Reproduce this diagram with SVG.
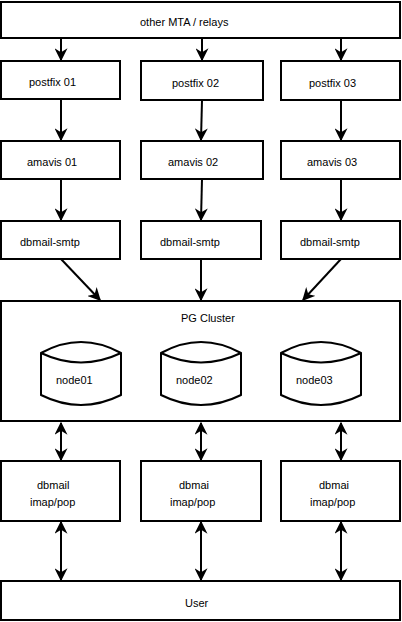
<svg xmlns="http://www.w3.org/2000/svg" width="402" height="622" viewBox="0 0 402 622">
<defs>
<marker id="ah" viewBox="0 0 10 10" refX="9" refY="5" markerWidth="6.5" markerHeight="6.5" orient="auto-start-reverse" markerUnits="strokeWidth">
<path d="M0,0 L10,5 L0,10 L3,5 z" fill="#000"/>
</marker>
</defs>
<style>
.box{fill:#fff;stroke:#000;stroke-width:2}
.cyl{fill:#fff;stroke:#000;stroke-width:2}
.t{font-family:"Liberation Sans",Arial,sans-serif;font-size:11px;fill:#000}
.c{stroke:#000;stroke-width:2;fill:none}
</style>
<rect width="402" height="622" fill="#fff"/>
<g id="relays"><rect class="box" x="1" y="2" width="399" height="36"/><text class="t" x="140" y="26">other MTA / relays</text></g>
<g id="postfix01"><rect class="box" x="1" y="61" width="119" height="38"/><text class="t" x="29" y="86">postfix 01</text></g>
<g id="postfix02"><rect class="box" x="141" y="61" width="122" height="39"/><text class="t" x="172" y="87">postfix 02</text></g>
<g id="postfix03"><rect class="box" x="281" y="61" width="119" height="39"/><text class="t" x="309" y="87">postfix 03</text></g>
<g id="amavis01"><rect class="box" x="1" y="141" width="119" height="38"/><text class="t" x="27" y="166">amavis 01</text></g>
<g id="amavis02"><rect class="box" x="141" y="141" width="122" height="38"/><text class="t" x="168" y="166">amavis 02</text></g>
<g id="amavis03"><rect class="box" x="281" y="141" width="119" height="38"/><text class="t" x="307" y="166">amavis 03</text></g>
<g id="smtp01"><rect class="box" x="1" y="221" width="119" height="38"/><text class="t" x="20" y="246">dbmail-smtp</text></g>
<g id="smtp02"><rect class="box" x="141" y="221" width="120" height="38"/><text class="t" x="160" y="246">dbmail-smtp</text></g>
<g id="smtp03"><rect class="box" x="281" y="221" width="119" height="38"/><text class="t" x="300" y="246">dbmail-smtp</text></g>
<g id="pgcluster"><rect class="box" x="1" y="301" width="399" height="120"/><text class="t" x="181" y="322">PG Cluster</text></g>
<g id="node01"><path class="cyl" d="M41,353 Q81,331 121,353 L121,395 Q81,415 41,395 Z M41,353 Q81,372 121,353"/><text class="t" x="56" y="384">node01</text></g>
<g id="node02"><path class="cyl" d="M161,353 Q201,331 241,353 L241,395 Q201,415 161,395 Z M161,353 Q201,372 241,353"/><text class="t" x="176" y="384">node02</text></g>
<g id="node03"><path class="cyl" d="M281,353 Q321,331 361,353 L361,395 Q321,415 281,395 Z M281,353 Q321,372 361,353"/><text class="t" x="296" y="384">node03</text></g>
<g id="imap01"><rect class="box" x="1" y="461" width="119" height="60"/><text class="t" x="37" y="489">dbmail</text><text class="t" x="30" y="506">imap/pop</text></g>
<g id="imap02"><rect class="box" x="141" y="461" width="120" height="60"/><text class="t" x="179" y="489">dbmai</text><text class="t" x="170" y="506">imap/pop</text></g>
<g id="imap03"><rect class="box" x="281" y="461" width="119" height="60"/><text class="t" x="319" y="489">dbmai</text><text class="t" x="310" y="506">imap/pop</text></g>
<g id="user"><rect class="box" x="1" y="581" width="399" height="39"/><text class="t" x="185" y="607">User</text></g>
<g id="connectors">
<line class="c" x1="61" y1="38" x2="61" y2="60" marker-end="url(#ah)"/>
<line class="c" x1="202" y1="38" x2="202" y2="60" marker-end="url(#ah)"/>
<line class="c" x1="341" y1="38" x2="341" y2="60" marker-end="url(#ah)"/>
<line class="c" x1="61" y1="99" x2="61" y2="140" marker-end="url(#ah)"/>
<line class="c" x1="202" y1="100" x2="201" y2="140" marker-end="url(#ah)"/>
<line class="c" x1="341" y1="100" x2="341" y2="140" marker-end="url(#ah)"/>
<line class="c" x1="61" y1="179" x2="61" y2="220" marker-end="url(#ah)"/>
<line class="c" x1="202" y1="179" x2="201" y2="220" marker-end="url(#ah)"/>
<line class="c" x1="341" y1="179" x2="341" y2="220" marker-end="url(#ah)"/>
<line class="c" x1="61" y1="259" x2="100" y2="300" marker-end="url(#ah)"/>
<line class="c" x1="201" y1="259" x2="201" y2="300" marker-end="url(#ah)"/>
<line class="c" x1="341" y1="259" x2="303" y2="300" marker-end="url(#ah)"/>
<line class="c" x1="61" y1="423" x2="61" y2="460" marker-start="url(#ah)" marker-end="url(#ah)"/>
<line class="c" x1="201" y1="423" x2="201" y2="460" marker-start="url(#ah)" marker-end="url(#ah)"/>
<line class="c" x1="341" y1="423" x2="341" y2="460" marker-start="url(#ah)" marker-end="url(#ah)"/>
<line class="c" x1="61" y1="522" x2="61" y2="580" marker-start="url(#ah)" marker-end="url(#ah)"/>
<line class="c" x1="201" y1="522" x2="201" y2="580" marker-start="url(#ah)" marker-end="url(#ah)"/>
<line class="c" x1="341" y1="522" x2="341" y2="580" marker-start="url(#ah)" marker-end="url(#ah)"/>
</g>
</svg>
